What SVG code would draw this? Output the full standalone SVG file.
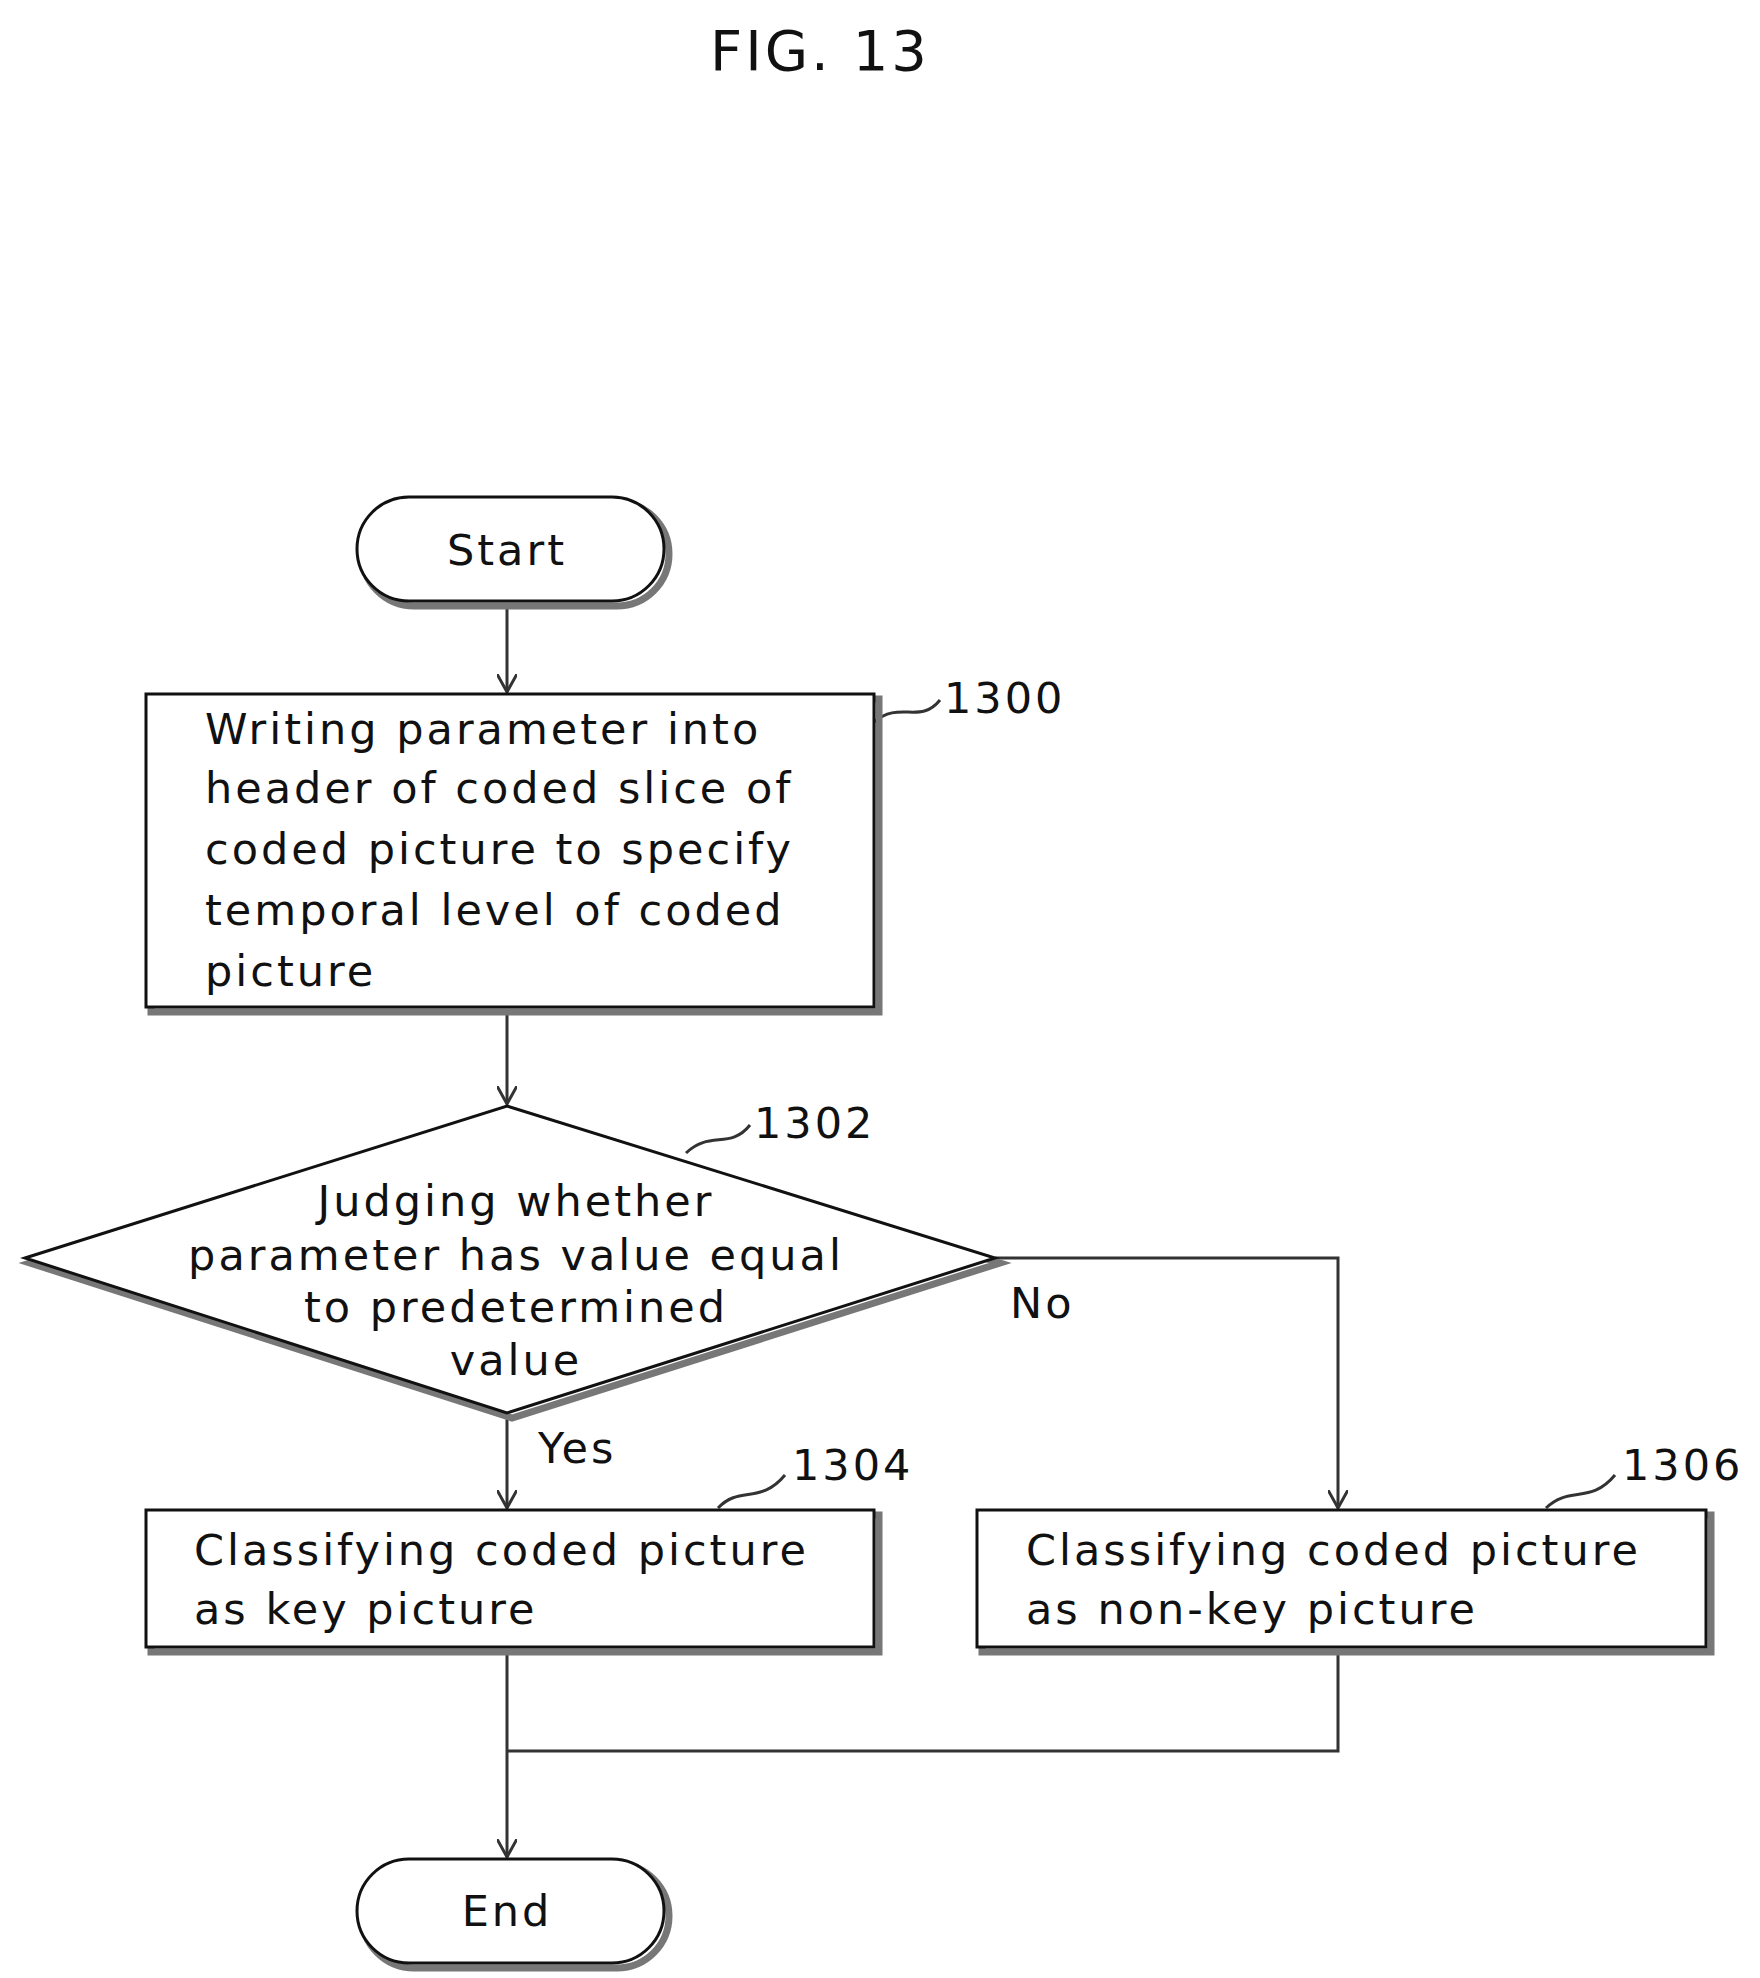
<svg xmlns="http://www.w3.org/2000/svg" width="1760" height="1978" viewBox="0 0 1760 1978">
<style>
text{font-family:"DejaVu Sans",sans-serif;font-size:43px;fill:#111;letter-spacing:3px}
.s{fill:none;stroke:#777;stroke-width:7}
.b{fill:#fff;stroke:#111;stroke-width:3}
.c{fill:none;stroke:#333;stroke-width:3}
.m{text-anchor:middle}
</style>
<defs><marker id="a" viewBox="0 0 20 20" refX="18" refY="10" markerWidth="20" markerHeight="20" markerUnits="userSpaceOnUse" orient="auto"><path d="M0,0 L18,10 L0,20" fill="none" stroke="#333" stroke-width="3"/></marker></defs>
<text x="820" y="70" class="m" style="font-size:56px">FIG. 13</text>
<g id="connectors">
<line class="c" x1="507" y1="604" x2="507" y2="692" marker-end="url(#a)"/>
<line class="c" x1="507" y1="1010" x2="507" y2="1104" marker-end="url(#a)"/>
<line class="c" x1="507" y1="1416" x2="507" y2="1508" marker-end="url(#a)"/>
<polyline class="c" points="995,1258 1338,1258 1338,1508" marker-end="url(#a)"/>
<line class="c" x1="507" y1="1650" x2="507" y2="1857" marker-end="url(#a)"/>
<polyline class="c" points="1338,1650 1338,1751 507,1751"/>
<path class="c" d="M874,722 C900,700 920,725 940,700"/>
<path class="c" d="M686,1153 C710,1130 730,1150 750,1125"/>
<path class="c" d="M718,1508 C740,1485 760,1505 785,1475"/>
<path class="c" d="M1546,1508 C1570,1485 1590,1505 1615,1475"/>
</g>
<g id="start"><rect class="s" x="362" y="502" width="307" height="104" rx="52"/><rect class="b" x="357" y="497" width="307" height="104" rx="52"/><text x="507" y="565" class="m">Start</text></g>
<g id="n1300"><rect class="s" x="151" y="699" width="728" height="313"/><rect class="b" x="146" y="694" width="728" height="313"/>
<text x="205" y="744">Writing parameter into</text><text x="205" y="803">header of coded slice of</text><text x="205" y="864">coded picture to specify</text><text x="205" y="925">temporal level of coded</text><text x="205" y="986">picture</text>
<text x="944" y="713">1300</text></g>
<g id="n1302"><polygon class="s" points="30,1263 512,1111 1000,1263 512,1418"/><polygon class="b" points="25,1258 507,1106 995,1258 507,1413"/>
<text x="516" y="1216" class="m">Judging whether</text><text x="516" y="1270" class="m">parameter has value equal</text><text x="516" y="1322" class="m">to predetermined</text><text x="516" y="1375" class="m">value</text>
<text x="754" y="1138">1302</text><text x="1010" y="1318">No</text><text x="538" y="1463">Yes</text></g>
<g id="n1304"><rect class="s" x="151" y="1515" width="728" height="137"/><rect class="b" x="146" y="1510" width="728" height="137"/>
<text x="194" y="1565">Classifying coded picture</text><text x="194" y="1624">as key picture</text><text x="792" y="1480">1304</text></g>
<g id="n1306"><rect class="s" x="982" y="1515" width="729" height="137"/><rect class="b" x="977" y="1510" width="729" height="137"/>
<text x="1026" y="1565">Classifying coded picture</text><text x="1026" y="1624">as non-key picture</text><text x="1622" y="1480">1306</text></g>
<g id="end"><rect class="s" x="362" y="1864" width="307" height="104" rx="52"/><rect class="b" x="357" y="1859" width="307" height="104" rx="52"/><text x="507" y="1926" class="m">End</text></g>
</svg>
